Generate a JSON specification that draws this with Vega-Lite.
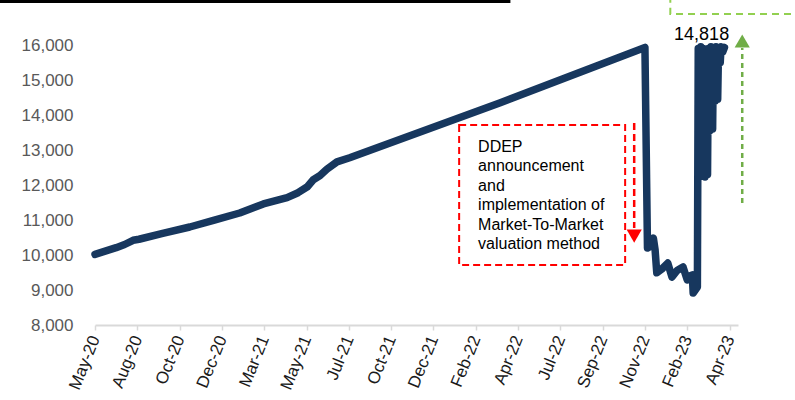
{
  "$schema": "https://vega.github.io/schema/vega-lite/v6.json",
  "width": 643,
  "height": 325,
  "autosize": {"type": "none"},
  "padding": {"left": 95, "top": 0, "right": 57, "bottom": 75},
  "background": "white",
  "config": {"view": {"stroke": null}, "font": "Liberation Sans"},
  "datasets": {
    "series": [
      {"t": 0, "v": 10020}, {"t": 12, "v": 10110}, {"t": 25, "v": 10210}, {"t": 35, "v": 10300},
      {"t": 45, "v": 10420}, {"t": 52, "v": 10450}, {"t": 80, "v": 10620}, {"t": 112, "v": 10800},
      {"t": 140, "v": 10990}, {"t": 171, "v": 11200}, {"t": 199, "v": 11460}, {"t": 227, "v": 11640},
      {"t": 240, "v": 11780}, {"t": 251, "v": 11950}, {"t": 258, "v": 12150}, {"t": 266, "v": 12270},
      {"t": 274, "v": 12450}, {"t": 286, "v": 12660}, {"t": 301, "v": 12780}, {"t": 479, "v": 14350},
      {"t": 650, "v": 15930}, {"t": 653, "v": 10200}, {"t": 655, "v": 10230}, {"t": 660, "v": 10480},
      {"t": 662, "v": 10150}, {"t": 664, "v": 9490}, {"t": 670, "v": 9600}, {"t": 677, "v": 9770},
      {"t": 682, "v": 9370}, {"t": 688, "v": 9560}, {"t": 695, "v": 9660}, {"t": 700, "v": 9290},
      {"t": 703, "v": 9400}, {"t": 706, "v": 9430}, {"t": 707, "v": 8914}, {"t": 712, "v": 9086},
      {"t": 713, "v": 15900}, {"t": 715, "v": 13500}, {"t": 716, "v": 15950}, {"t": 718, "v": 12250},
      {"t": 719, "v": 15900}, {"t": 721, "v": 12230}, {"t": 722, "v": 15850}, {"t": 724, "v": 12300},
      {"t": 725, "v": 15900}, {"t": 727, "v": 13560}, {"t": 728, "v": 15950}, {"t": 730, "v": 13600},
      {"t": 731, "v": 15900}, {"t": 733, "v": 14400}, {"t": 734, "v": 15950}, {"t": 736, "v": 14450},
      {"t": 737, "v": 15900}, {"t": 739, "v": 15500}, {"t": 740, "v": 15950}, {"t": 742, "v": 15800},
      {"t": 744, "v": 15930}
    ],
    "redbox": [{"t": 430.4, "t2": 626.6, "v": 9714, "v2": 13714}],
    "greenbox": [{"t": 680, "t2": 845, "v": 16886, "v2": 17500}],
    "redarrow": [{"t": 637.3, "v": 13771, "v2": 10771}],
    "redhead": [{"t": 637.3, "v": 10540}],
    "greenarrow": [{"t": 765, "v": 11486, "v2": 15914}],
    "greenhead": [{"t": 765, "v": 16114}],
    "topline": [{"t": -115, "t2": 491, "v": 17243}],
    "note": [{"t": 452.8, "v": 12951}],
    "peak": [{"t": 717, "v": 16286, "label": "14,818"}]
  },
  "layer": [
    {
      "data": {"name": "series"},
      "mark": {"type": "line", "color": "#17375E", "strokeWidth": 7.5, "strokeJoin": "round", "strokeCap": "round"},
      "encoding": {
        "x": {
          "field": "t", "type": "quantitative",
          "scale": {"domain": [0, 760], "nice": false, "zero": false},
          "axis": {
            "title": null, "grid": false,
            "values": [0, 50, 100, 150, 200, 250, 300, 350, 400, 450, 500, 550, 600, 650, 700, 750],
            "labelExpr": "['May-20','Aug-20','Oct-20','Dec-20','Mar-21','May-21','Jul-21','Oct-21','Dec-21','Feb-22','Apr-22','Jul-22','Sep-22','Nov-22','Feb-23','Apr-23'][round(datum.value/50)]",
            "labelAngle": -68, "labelAlign": "right", "labelBaseline": "middle",
            "labelFontSize": 17, "labelColor": "#1a1a1a", "labelPadding": 6,
            "labelOverlap": false, "labelFlush": false,
            "tickSize": 5, "tickColor": "#D9D9D9", "tickWidth": 1.5,
            "domainColor": "#D9D9D9", "domainWidth": 2
          }
        },
        "y": {
          "field": "v", "type": "quantitative",
          "scale": {"domain": [8000, 17286], "nice": false, "zero": false},
          "axis": {
            "title": null, "grid": false, "ticks": false, "domain": false,
            "values": [8000, 9000, 10000, 11000, 12000, 13000, 14000, 15000, 16000],
            "format": ",.0f", "labelFontSize": 17, "labelColor": "#595959", "labelPadding": 22,
            "labelOverlap": false, "labelFlush": false
          }
        }
      }
    },
    {
      "data": {"name": "redbox"},
      "mark": {"type": "rect", "fillOpacity": 0, "stroke": "#FF0000", "strokeWidth": 2, "strokeDash": [7, 4]},
      "encoding": {
        "x": {"field": "t", "type": "quantitative"}, "x2": {"field": "t2"},
        "y": {"field": "v", "type": "quantitative"}, "y2": {"field": "v2"}
      }
    },
    {
      "data": {"name": "greenbox"},
      "mark": {"type": "rect", "fillOpacity": 0, "stroke": "#92D050", "strokeWidth": 2, "strokeDash": [7, 5]},
      "encoding": {
        "x": {"field": "t", "type": "quantitative"}, "x2": {"field": "t2"},
        "y": {"field": "v", "type": "quantitative"}, "y2": {"field": "v2"}
      }
    },
    {
      "data": {"name": "redarrow"},
      "mark": {"type": "rule", "color": "#FF0000", "strokeWidth": 2.5, "strokeDash": [7, 4]},
      "encoding": {
        "x": {"field": "t", "type": "quantitative"},
        "y": {"field": "v", "type": "quantitative"}, "y2": {"field": "v2"}
      }
    },
    {
      "data": {"name": "redhead"},
      "mark": {"type": "point", "shape": "triangle-down", "filled": true, "color": "#FF0000", "size": 230, "opacity": 1},
      "encoding": {
        "x": {"field": "t", "type": "quantitative"},
        "y": {"field": "v", "type": "quantitative"}
      }
    },
    {
      "data": {"name": "greenarrow"},
      "mark": {"type": "rule", "color": "#70AD47", "strokeWidth": 2.5, "strokeDash": [5, 4]},
      "encoding": {
        "x": {"field": "t", "type": "quantitative"},
        "y": {"field": "v", "type": "quantitative"}, "y2": {"field": "v2"}
      }
    },
    {
      "data": {"name": "greenhead"},
      "mark": {"type": "point", "shape": "triangle-up", "filled": true, "color": "#70AD47", "size": 230, "opacity": 1},
      "encoding": {
        "x": {"field": "t", "type": "quantitative"},
        "y": {"field": "v", "type": "quantitative"}
      }
    },
    {
      "data": {"name": "topline"},
      "mark": {"type": "rule", "color": "#000000", "strokeWidth": 3},
      "encoding": {
        "x": {"field": "t", "type": "quantitative"}, "x2": {"field": "t2"},
        "y": {"field": "v", "type": "quantitative"}
      }
    },
    {
      "data": {"name": "note"},
      "mark": {
        "type": "text",
        "text": ["DDEP", "announcement", "and", "implementation of", "Market-To-Market", "valuation method"],
        "align": "left", "baseline": "alphabetic", "fontSize": 16, "lineHeight": 19.5, "color": "#000000"
      },
      "encoding": {
        "x": {"field": "t", "type": "quantitative"},
        "y": {"field": "v", "type": "quantitative"}
      }
    },
    {
      "data": {"name": "peak"},
      "mark": {"type": "text", "align": "center", "baseline": "middle", "fontSize": 18, "color": "#000000"},
      "encoding": {
        "x": {"field": "t", "type": "quantitative"},
        "y": {"field": "v", "type": "quantitative"},
        "text": {"field": "label"}
      }
    }
  ]
}
